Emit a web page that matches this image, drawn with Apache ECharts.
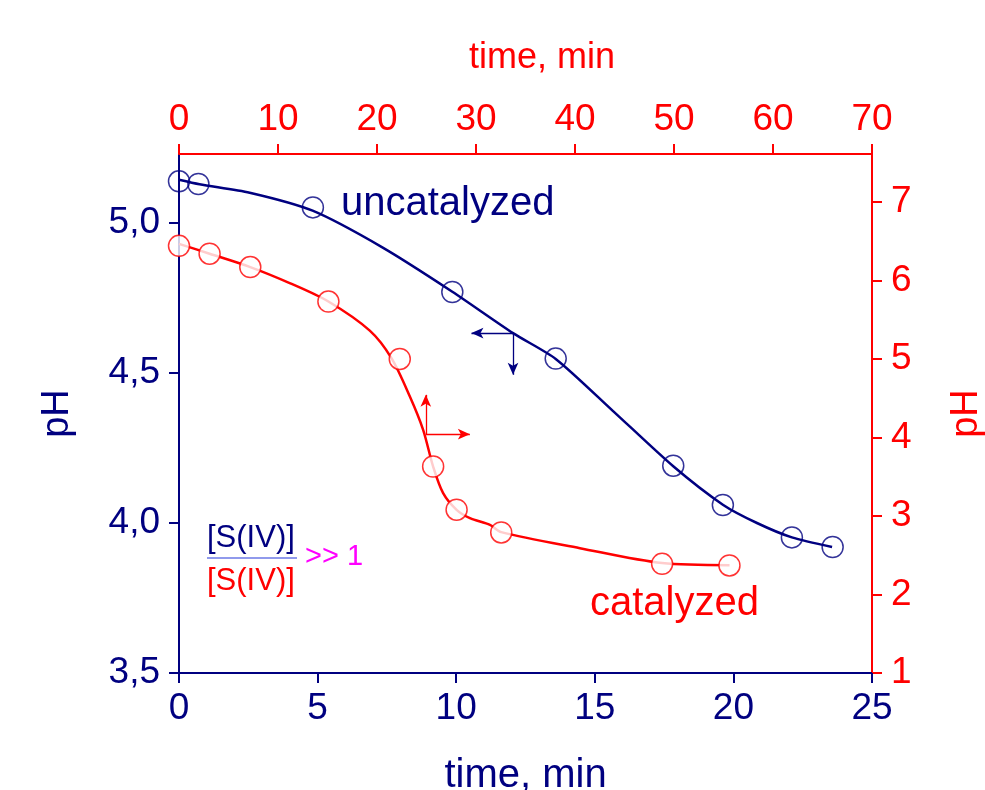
<!DOCTYPE html>
<html>
<head>
<meta charset="utf-8">
<script src="https://cdn.jsdelivr.net/npm/echarts@6/dist/echarts.min.js"></script>
<style>
  html, body { margin: 0; padding: 0; background: #fff; overflow: hidden; }
  #main { width: 985px; height: 790px; }
</style>
</head>
<body>
<div id="main"></div>
<script>
// uncatalyzed run: bottom time axis (0-25 min), left pH axis
var uncatPoints = [[0, 5.139], [0.70, 5.13], [4.83, 5.052], [9.86, 4.77], [13.59, 4.548],
  [17.83, 4.191], [19.62, 4.06], [22.11, 3.952], [23.58, 3.92]];
var uncatFit = [[0, 5.144], [0.74, 5.129], [2.55, 5.101], [4.82, 5.041], [7.35, 4.918],
  [9.86, 4.771], [12.05, 4.633], [13.59, 4.547], [15.65, 4.374],
  [17.83, 4.189], [19.62, 4.061], [20.85, 4.0], [22.11, 3.952], [23.56, 3.92]];

// catalyzed run: top time axis (0-70 min), right pH axis
var catPoints = [[0, 6.44], [3.09, 6.34], [7.2, 6.17], [15.09, 5.731], [22.3, 5.0],
  [25.67, 3.63], [28.04, 3.08], [32.55, 2.79], [48.8, 2.39], [55.6, 2.37]];
var catFit = [[0, 6.466], [3.09, 6.34], [7.2, 6.17], [11.18, 5.966], [15.09, 5.731],
  [19.27, 5.36], [21.46, 5.01], [23.32, 4.521], [24.66, 4.097], [25.67, 3.629],
  [26.68, 3.29], [28.04, 3.078], [29.39, 2.972], [31.41, 2.887], [32.55, 2.794],
  [40.5, 2.59], [48.8, 2.40], [55.61, 2.373]];

var leftTicks = [3.5, 4.0, 4.5, 5.0];
var rightTicks = [1, 2, 3, 4, 5, 6, 7];

var NAVY = '#000080';
var RED = '#ff0000';
var FONT = 'Liberation Sans, Arial, sans-serif';

var chart = echarts.init(document.getElementById('main'), null, { width: 985, height: 790 });

var option = {
  animation: false,
  backgroundColor: '#fff',
  textStyle: { fontFamily: FONT },
  grid: { left: 179, top: 154, width: 693, height: 519, containLabel: false, outerBoundsMode: 'none' },
  xAxis: [
    {
      type: 'value', position: 'bottom', min: 0, max: 25, interval: 5,
      name: 'time, min', nameLocation: 'middle', nameGap: 83,
      nameTextStyle: { color: NAVY, fontSize: 40, fontFamily: FONT },
      axisLine: { show: true, onZero: false, lineStyle: { color: NAVY, width: 2 } },
      axisTick: { show: true, inside: false, length: 10, lineStyle: { color: NAVY, width: 2 } },
      axisLabel: { color: NAVY, fontSize: 37, margin: 17, fontFamily: FONT },
      splitLine: { show: false }
    },
    {
      type: 'value', position: 'top', min: 0, max: 70, interval: 10,
      axisLine: { show: true, onZero: false, lineStyle: { color: RED, width: 2 } },
      axisTick: { show: true, inside: false, length: 10, lineStyle: { color: RED, width: 2 } },
      axisLabel: { color: RED, fontSize: 37, margin: 16, fontFamily: FONT },
      splitLine: { show: false }
    }
  ],
  yAxis: [
    {
      type: 'value', position: 'left', min: 3.5, max: 5.23,
      name: 'pH', nameLocation: 'middle', nameGap: 102, nameRotate: 90,
      nameTextStyle: { color: NAVY, fontSize: 38, fontFamily: FONT },
      axisLine: { show: true, onZero: false, lineStyle: { color: NAVY, width: 2 } },
      axisTick: { show: true, inside: false, length: 10, customValues: leftTicks,
        lineStyle: { color: NAVY, width: 2 } },
      axisLabel: { color: NAVY, fontSize: 37, margin: 19, fontFamily: FONT,
        customValues: leftTicks,
        formatter: function (v) { return v.toFixed(1).replace('.', ','); } },
      splitLine: { show: false }
    },
    {
      type: 'value', position: 'right', min: 1, max: 7.61,
      name: 'pH', nameLocation: 'middle', nameGap: 76, nameRotate: 90,
      nameTextStyle: { color: RED, fontSize: 38, fontFamily: FONT },
      axisLine: { show: true, onZero: false, lineStyle: { color: RED, width: 2 } },
      axisTick: { show: true, inside: false, length: 10, customValues: rightTicks,
        lineStyle: { color: RED, width: 2 } },
      axisLabel: { color: RED, fontSize: 37, margin: 19, fontFamily: FONT,
        customValues: rightTicks },
      splitLine: { show: false }
    }
  ],
  series: [
    {
      name: 'uncatalyzed fit', type: 'line', xAxisIndex: 0, yAxisIndex: 0,
      data: uncatFit, smooth: 0.25, showSymbol: false, symbol: 'none',
      lineStyle: { color: NAVY, width: 2.5 }, z: 2,
      markLine: {
        silent: true, symbol: ['none', 'arrow'], symbolSize: [8, 12],
        label: { show: false },
        lineStyle: { color: NAVY, width: 1.3, type: 'solid' },
        data: [
          [{ coord: [12.05, 4.633] }, { coord: [10.55, 4.633] }],
          [{ coord: [12.05, 4.633] }, { coord: [12.05, 4.494] }]
        ]
      }
    },
    {
      name: 'uncatalyzed', type: 'scatter', xAxisIndex: 0, yAxisIndex: 0,
      data: uncatPoints, symbol: 'circle', symbolSize: 21, z: 3,
      itemStyle: { color: 'rgba(0,0,0,0)', borderColor: NAVY, borderWidth: 1.5 }
    },
    {
      name: 'catalyzed fit', type: 'line', xAxisIndex: 1, yAxisIndex: 1,
      data: catFit, smooth: 0.3, showSymbol: false, symbol: 'none',
      lineStyle: { color: RED, width: 2.5 }, z: 2,
      markLine: {
        silent: true, symbol: ['none', 'arrow'], symbolSize: [8, 12],
        label: { show: false },
        lineStyle: { color: RED, width: 1.3, type: 'solid' },
        data: [
          [{ coord: [24.93, 4.042] }, { coord: [24.93, 4.543] }],
          [{ coord: [24.93, 4.042] }, { coord: [29.38, 4.042] }]
        ]
      }
    },
    {
      name: 'catalyzed', type: 'scatter', xAxisIndex: 1, yAxisIndex: 1,
      data: catPoints, symbol: 'circle', symbolSize: 21, z: 3,
      itemStyle: { color: '#fff', borderColor: RED, borderWidth: 1.5 }
    }
  ],
  graphic: [
    { type: 'text', x: 542, y: 58,
      style: { text: 'time, min', fill: RED, font: '36px ' + FONT, align: 'center', verticalAlign: 'middle' } },
    { type: 'text', x: 341, y: 204,
      style: { text: 'uncatalyzed', fill: NAVY, font: '40px ' + FONT, verticalAlign: 'middle' } },
    { type: 'text', x: 590, y: 604,
      style: { text: 'catalyzed', fill: RED, font: '40px ' + FONT, verticalAlign: 'middle' } },
    { type: 'text', x: 207, y: 538,
      style: { text: '[S(IV)]', fill: NAVY, font: '31px ' + FONT, verticalAlign: 'middle' } },
    { type: 'line', shape: { x1: 207, y1: 558, x2: 297, y2: 558 },
      style: { stroke: '#6b78e6', lineWidth: 1.5 } },
    { type: 'text', x: 207, y: 581,
      style: { text: '[S(IV)]', fill: RED, font: '31px ' + FONT, verticalAlign: 'middle' } },
    { type: 'text', x: 305, y: 557,
      style: { text: '>> 1', fill: '#ff00ff', font: '29px ' + FONT, verticalAlign: 'middle' } }
  ]
};

chart.setOption(option);
</script>
</body>
</html>
